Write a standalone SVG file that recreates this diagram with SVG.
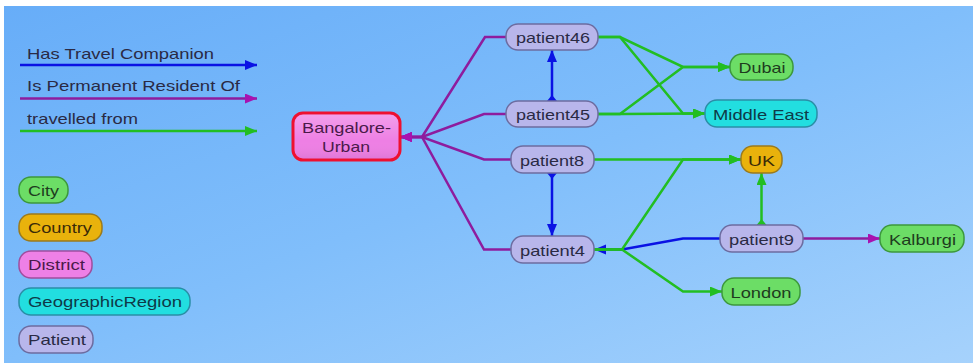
<svg xmlns="http://www.w3.org/2000/svg" width="973" height="363" viewBox="0 0 973 363">
<defs>
<linearGradient id="bg" x1="0" y1="0" x2="1" y2="1">
<stop offset="0" stop-color="#67ADF8"/>
<stop offset="0.5" stop-color="#80BEFB"/>
<stop offset="1" stop-color="#A6D2FC"/>
</linearGradient>
<linearGradient id="gloss" x1="0" y1="0" x2="0" y2="1">
<stop offset="0" stop-color="#ffffff" stop-opacity="0.25"/>
<stop offset="0.6" stop-color="#ffffff" stop-opacity="0"/>
<stop offset="1" stop-color="#000000" stop-opacity="0.06"/>
</linearGradient>
<marker id="aBlue" markerUnits="userSpaceOnUse" markerWidth="13" markerHeight="11" refX="12" refY="5" orient="auto"><path d="M0,0 L12,5 L0,10 z" fill="#0A12E4"/></marker>
<marker id="aPurple" markerUnits="userSpaceOnUse" markerWidth="13" markerHeight="11" refX="12" refY="5" orient="auto"><path d="M0,0 L12,5 L0,10 z" fill="#A812B0"/></marker>
<marker id="aGreen" markerUnits="userSpaceOnUse" markerWidth="13" markerHeight="11" refX="12" refY="5" orient="auto"><path d="M0,0 L12,5 L0,10 z" fill="#22BE22"/></marker>
<marker id="sBlue" markerUnits="userSpaceOnUse" markerWidth="8" markerHeight="11" refX="0" refY="5" orient="auto"><path d="M0,0 L6,5 L0,10 z" fill="#0A12E4"/></marker>
<marker id="sGreen" markerUnits="userSpaceOnUse" markerWidth="8" markerHeight="11" refX="0" refY="5" orient="auto"><path d="M0,0 L6,5 L0,10 z" fill="#22BE22"/></marker>
</defs>
<style>
text{font-family:"Liberation Sans",Arial,sans-serif;font-size:15px;fill:#2A2A44}
.e{fill:none;stroke-width:2.5;stroke-linejoin:miter}
.blue{stroke:#0A12E4}
.purple{stroke:#8E1C9E}
.green{stroke:#22BE22}
.n{stroke-width:1.5}
.pat{fill:#B8B6EB;stroke:#6C6CA0}
.city{fill:#6CDD66;stroke:#3C983C}
.country{fill:#E9B20C;stroke:#9A7A1E}
.district{fill:#EE80E6;stroke:#9E4E9E}
.region{fill:#22DEE0;stroke:#2A8EA6}
.gl{fill:url(#gloss);stroke:none}
</style>
<rect x="0" y="0" width="973" height="363" fill="#ffffff"/>
<rect x="4" y="6" width="969" height="357" fill="url(#bg)"/>

<g id="legend">
<text x="27" y="58.5" textLength="187" lengthAdjust="spacingAndGlyphs">Has Travel Companion</text>
<path class="e blue" d="M20,65 L257,65" marker-end="url(#aBlue)"/>
<text x="27" y="91" textLength="213" lengthAdjust="spacingAndGlyphs">Is Permanent Resident Of</text>
<path class="e purple" d="M20,98.5 L257,98.5" marker-end="url(#aPurple)"/>
<text x="27" y="123.5" textLength="111" lengthAdjust="spacingAndGlyphs">travelled from</text>
<path class="e green" d="M20,131 L257,131" marker-end="url(#aGreen)"/>
<g id="legend-city"><rect class="n city" x="19" y="177" width="49" height="26" rx="12"/><text x="28" y="195.5" textLength="31" lengthAdjust="spacingAndGlyphs" style="fill:#1E3C1E">City</text></g>
<g id="legend-country"><rect class="n country" x="19" y="214" width="83" height="27" rx="12"/><text x="28" y="233" textLength="64" lengthAdjust="spacingAndGlyphs" style="fill:#3A2A08">Country</text></g>
<g id="legend-district"><rect class="n district" x="19" y="251" width="73" height="27" rx="12"/><text x="28" y="270" textLength="57" lengthAdjust="spacingAndGlyphs" style="fill:#4A1A4A">District</text></g>
<g id="legend-region"><rect class="n region" x="19" y="288" width="171" height="27" rx="12"/><text x="28" y="307" textLength="154" lengthAdjust="spacingAndGlyphs" style="fill:#0E3A48">GeographicRegion</text></g>
<g id="legend-patient"><rect class="n pat" x="19" y="326" width="74" height="27" rx="12"/><text x="28" y="345" textLength="58" lengthAdjust="spacingAndGlyphs">Patient</text></g>
</g>

<g id="connectors">
<path class="e purple" d="M506,37 L485,37 L422,137 L400,137" marker-end="url(#aPurple)"/>
<path class="e purple" d="M506,114 L484,114 L422,137 L400,137" marker-end="url(#aPurple)"/>
<path class="e purple" d="M511,159.5 L484,159.5 L422,137 L400,137" marker-end="url(#aPurple)"/>
<path class="e purple" d="M511,249.5 L484,249.5 L422,137 L400,137" marker-end="url(#aPurple)"/>
<path class="e purple" d="M803,238.5 L880,238.5" marker-end="url(#aPurple)"/>
<path class="e blue" d="M552,101 L552,50" marker-start="url(#sBlue)" marker-end="url(#aBlue)"/>
<path class="e blue" d="M552,173 L552,236" marker-start="url(#sBlue)" marker-end="url(#aBlue)"/>
<path class="e blue" d="M720,238.5 L683,238.5 L622,249.5 L594,249.5" marker-end="url(#aBlue)"/>
<path class="e green" d="M598,37 L620,37 L683,67 L730,67" marker-end="url(#aGreen)"/>
<path class="e green" d="M598,37 L620,37 L683,113.5 L705,113.5" marker-end="url(#aGreen)"/>
<path class="e green" d="M598,114 L620,114 L683,67 L730,67" marker-end="url(#aGreen)"/>
<path class="e green" d="M598,114 L620,114 L705,113.5" marker-end="url(#aGreen)"/>
<path class="e green" d="M594,159.5 L741,159.5" marker-end="url(#aGreen)"/>
<path class="e green" d="M594,249.5 L622,249.5 L683,159.5 L741,159.5" marker-end="url(#aGreen)"/>
<path class="e green" d="M594,249.5 L622,249.5 L683,291.5 L722,291.5" marker-end="url(#aGreen)"/>
<path class="e green" d="M761.5,225 L761.5,173" marker-start="url(#sGreen)" marker-end="url(#aGreen)"/>
</g>

<g id="bangalore-urban"><rect x="293" y="113" width="107" height="47" rx="10" fill="#EE7FE4" stroke="#EE1030" stroke-width="3"/><rect class="gl" x="294.5" y="114.5" width="104" height="44" rx="9"/><text x="302" y="132.5" textLength="89" lengthAdjust="spacingAndGlyphs" style="fill:#4A1A4A">Bangalore-</text><text x="322" y="151.5" textLength="48" lengthAdjust="spacingAndGlyphs" style="fill:#4A1A4A">Urban</text></g>
<g id="patient46"><rect class="n pat" x="506" y="24" width="92" height="26" rx="12"/><text x="516" y="43" textLength="74" lengthAdjust="spacingAndGlyphs">patient46</text></g>
<g id="patient45"><rect class="n pat" x="506" y="101" width="92" height="26" rx="12"/><text x="516" y="120" textLength="74" lengthAdjust="spacingAndGlyphs">patient45</text></g>
<g id="patient8"><rect class="n pat" x="511" y="146" width="83" height="27" rx="12"/><text x="520" y="165.5" textLength="64" lengthAdjust="spacingAndGlyphs">patient8</text></g>
<g id="patient4"><rect class="n pat" x="511" y="236" width="83" height="27" rx="12"/><text x="520" y="255.5" textLength="65" lengthAdjust="spacingAndGlyphs">patient4</text></g>
<g id="dubai"><rect class="n city" x="730" y="54" width="63" height="26" rx="12"/><text x="738.5" y="73" textLength="47" lengthAdjust="spacingAndGlyphs" style="fill:#1E3C1E">Dubai</text></g>
<g id="middle-east"><rect class="n region" x="705" y="100" width="112" height="27" rx="12"/><text x="713" y="119.5" textLength="96" lengthAdjust="spacingAndGlyphs" style="fill:#0E3A48">Middle East</text></g>
<g id="uk"><rect class="n country" x="741" y="146" width="41" height="27" rx="12"/><text x="748" y="165.5" textLength="27" lengthAdjust="spacingAndGlyphs" style="fill:#3A2A08">UK</text></g>
<g id="patient9"><rect class="n pat" x="720" y="225" width="83" height="27" rx="12"/><text x="729" y="244.5" textLength="65" lengthAdjust="spacingAndGlyphs">patient9</text></g>
<g id="kalburgi"><rect class="n city" x="880" y="225" width="84" height="27" rx="12"/><text x="889" y="244.5" textLength="67" lengthAdjust="spacingAndGlyphs" style="fill:#1E3C1E">Kalburgi</text></g>
<g id="london"><rect class="n city" x="722" y="278" width="78" height="27" rx="12"/><text x="730.5" y="297.5" textLength="61" lengthAdjust="spacingAndGlyphs" style="fill:#1E3C1E">London</text></g>
</svg>
